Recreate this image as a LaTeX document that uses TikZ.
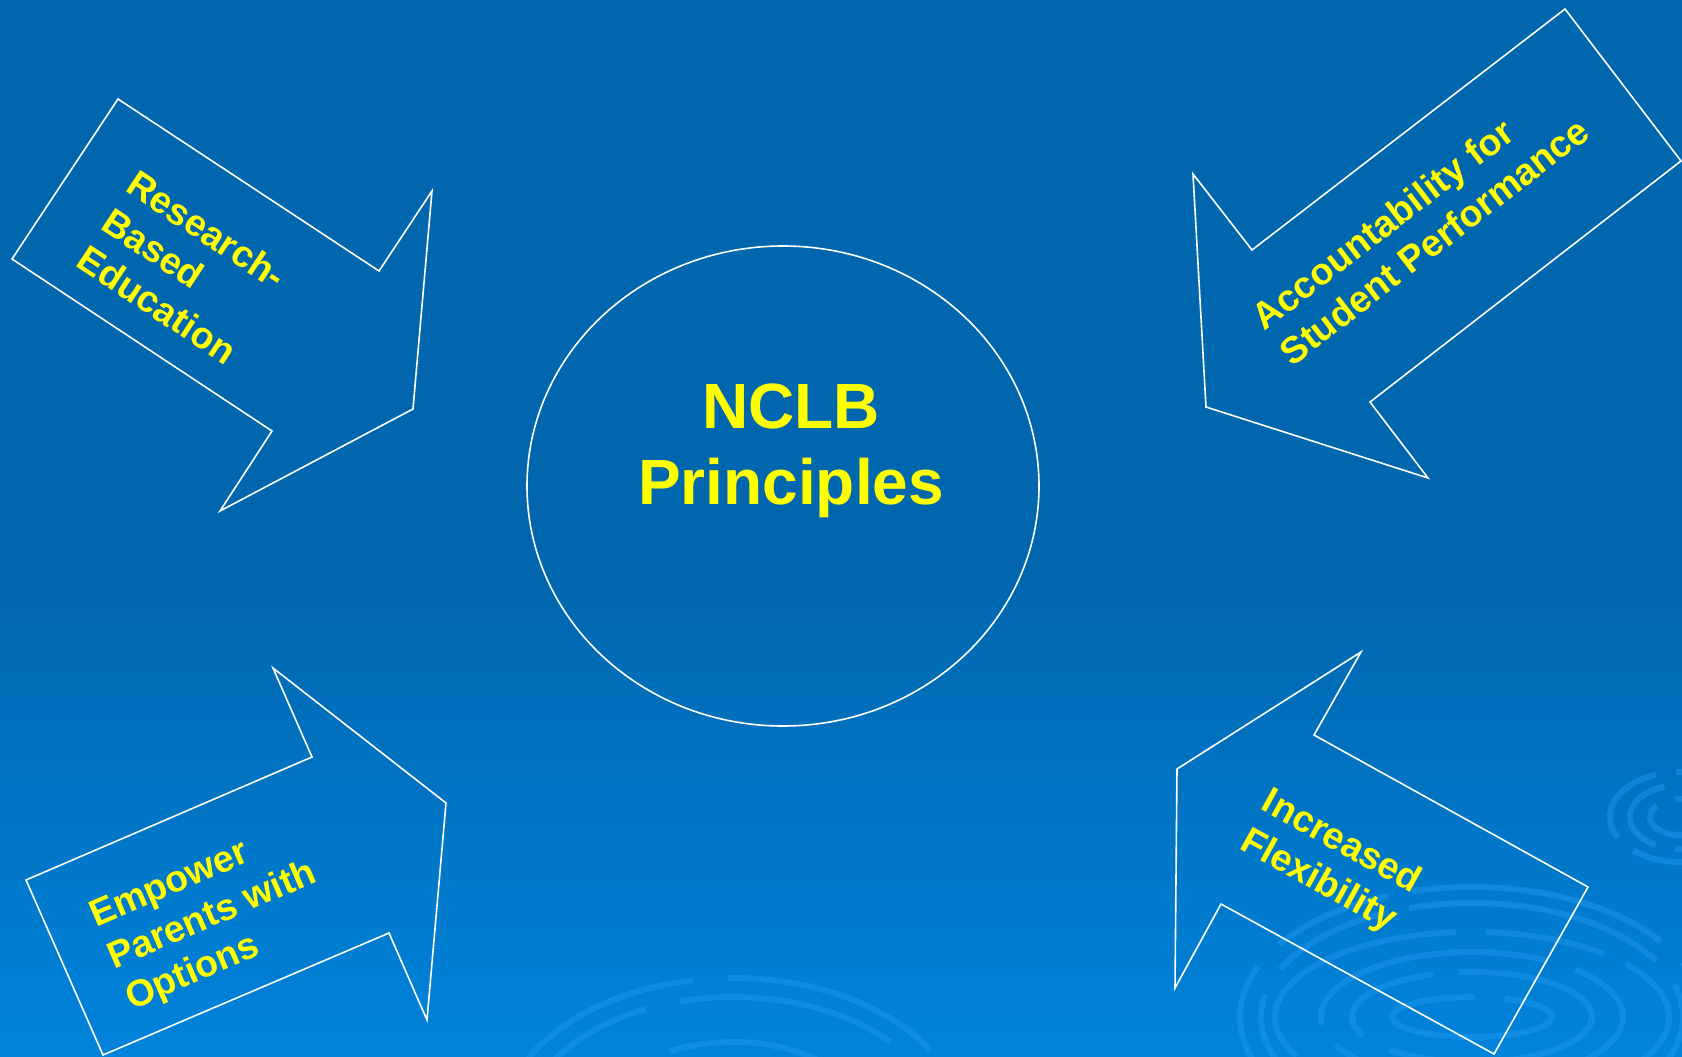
\documentclass[tikz,border=0pt]{standalone}
\usepackage{fontspec}
\setmainfont{Liberation Sans}
\usetikzlibrary{shapes.geometric}

\definecolor{slidetop}{RGB}{0,102,173}
\definecolor{slidebot}{RGB}{0,131,219}
\definecolor{ripple}{RGB}{30,150,238}
\definecolor{labelyellow}{RGB}{255,255,0}

\tikzset{
  outline/.style={draw=white, line width=1.6pt, line join=miter},
  sidetext/.style={text=labelyellow, font=\fontsize{37.4}{45}\selectfont\bfseries,
    align=left, anchor=north west, inner sep=0pt},
  ring/.style={draw=ripple, line width=6pt, opacity=0.5}
}

\begin{document}
\begin{tikzpicture}[x=1pt,y=-1pt]
        \useasboundingbox (0,0) rectangle (1682,1057);

        % background
        \fill[slidetop] (0,0) rectangle (1682,560);
        \shade[top color=slidetop, bottom color=slidebot] (0,559) rectangle (1682,1057);

        % ripples
        \begin{scope}
            \clip (0,0) rectangle (1682,1057);
            \foreach \rx/\ry/\dp in {80/20/0, 120/45/40, 151/65/90, 197/85/20, 211/114/150, 232/130/60}
                \draw[ring, dash pattern=on 260pt off 30pt on 120pt off 25pt, dash phase=\dp pt]
                    (1472,1017) ellipse ({\rx} and {\ry});
            \foreach \rx/\ry/\dp in {140/88/30, 210/133/0, 232/152/110}
                \draw[ring, dash pattern=on 220pt off 35pt, dash phase=\dp pt]
                    (733,1130) ellipse ({\rx} and {\ry});
            \foreach \rx/\ry/\dp in {30/18/0, 50/32/20, 70/45/60}
                \draw[ring, dash pattern=on 90pt off 20pt, dash phase=\dp pt]
                    (1680,817) ellipse ({\rx} and {\ry});
        \end{scope}

        % arrows
        \draw[outline] (118,99) -- (379,271) -- (432,191) -- (413,409)
            -- (220,511) -- (272,431) -- (12,259) -- cycle;
        \draw[outline] (1565,9) -- (1681,161) -- (1370,402) -- (1428,478)
            -- (1206,407) -- (1193,174) -- (1252,250) -- cycle;
        \draw[outline] (273,668) -- (446,803) -- (427,1020) -- (389,933)
            -- (103,1055) -- (26,880) -- (312,757) -- cycle;
        \draw[outline] (1361,652) -- (1314,735) -- (1588,887) -- (1494,1054)
            -- (1221,904) -- (1175,988) -- (1177,769) -- cycle;

        \node[sidetext, rotate=-33.5] (research) at (139,168) {Research-\\Based\\Education};
        \node[sidetext, rotate=37.6] (account) at (1248,310) {Accountability for\\Student Performance};
        \node[sidetext, rotate=23.3] (empower) at (86,904) {Empower\\Parents with\\Options};
        \node[sidetext, rotate=-29] (flex) at (1273,785) {Increased\\Flexibility};

        % centre
        \node[ellipse, draw=white, line width=1.6pt, minimum width=512pt,
            minimum height=480pt, inner sep=0pt] (hub) at (783,486) {};
        \node[text=labelyellow, font=\fontsize{64}{76}\selectfont\bfseries,
            align=center, anchor=north, inner sep=0pt] (title) at (791,384) {NCLB\\Principles};

    \end{tikzpicture}
\end{document}
